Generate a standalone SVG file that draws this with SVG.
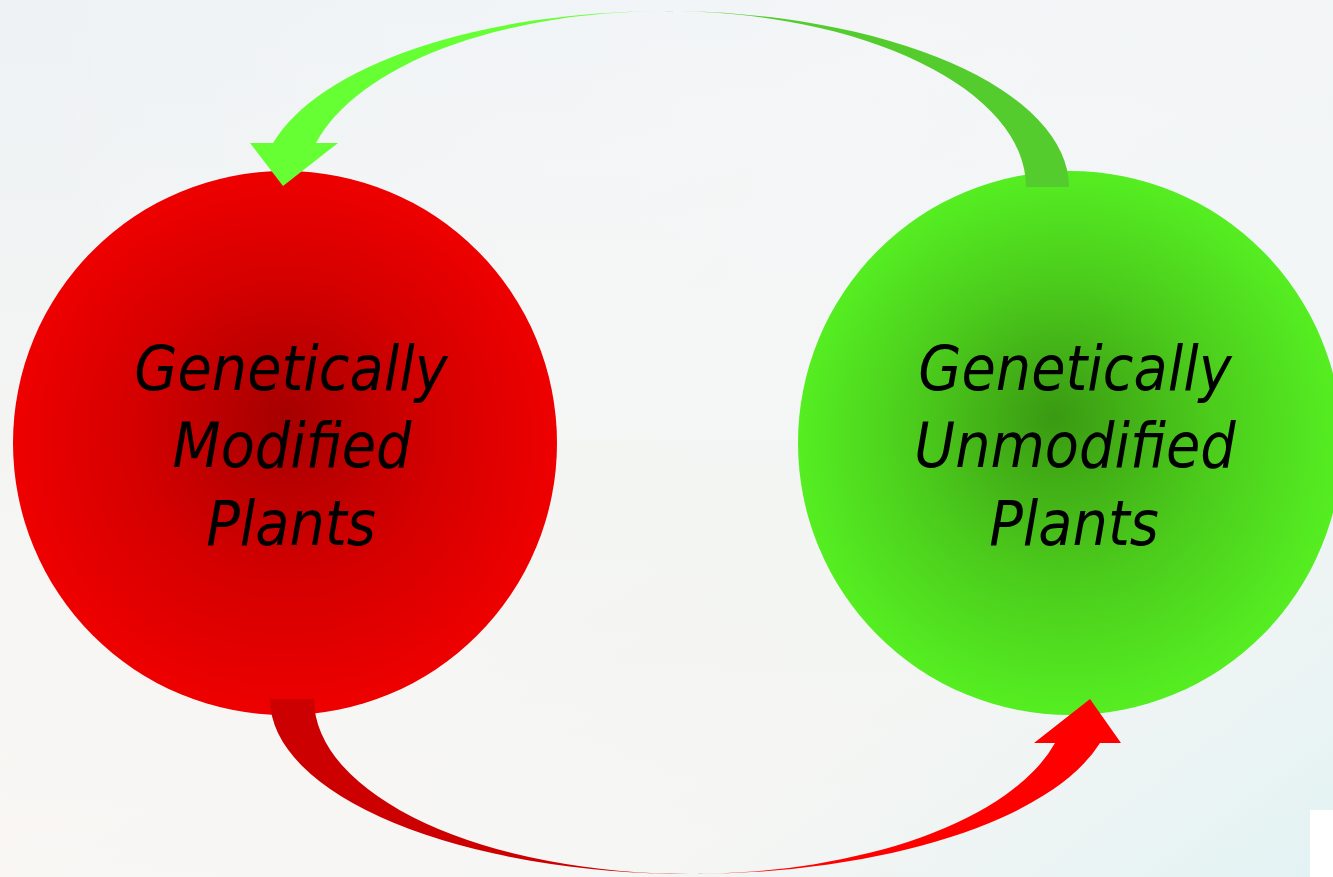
<svg xmlns="http://www.w3.org/2000/svg" width="1333" height="877" viewBox="0 0 1333 877">
  <defs>
    <linearGradient id="bgV" x1="0" y1="0" x2="0" y2="1">
      <stop offset="0" stop-color="#eef2f5"/>
      <stop offset="0.5" stop-color="#f4f5f3"/>
      <stop offset="1" stop-color="#fbf7f4"/>
    </linearGradient>
    <linearGradient id="bgD" x1="0.35" y1="0.35" x2="1" y2="1">
      <stop offset="0" stop-color="#e6f3f4" stop-opacity="0"/>
      <stop offset="0.6" stop-color="#e6f3f4" stop-opacity="0.25"/>
      <stop offset="1" stop-color="#e2f2f3" stop-opacity="1"/>
    </linearGradient>
    <linearGradient id="bgT" x1="0" y1="0" x2="1" y2="0">
      <stop offset="0" stop-color="#ffffff" stop-opacity="0"/>
      <stop offset="1" stop-color="#f8f8f8" stop-opacity="0.6"/>
    </linearGradient>
    <radialGradient id="redG" cx="0.5" cy="0.5" r="0.5" fx="0.5" fy="0.45">
      <stop offset="0" stop-color="#a60000"/>
      <stop offset="0.55" stop-color="#d40000"/>
      <stop offset="1" stop-color="#ee0000"/>
    </radialGradient>
    <radialGradient id="greenG" cx="0.5" cy="0.5" r="0.5" fx="0.47" fy="0.45">
      <stop offset="0" stop-color="#3a9a12"/>
      <stop offset="0.55" stop-color="#4ccc1c"/>
      <stop offset="1" stop-color="#55ee22"/>
    </radialGradient>
  </defs>
  <style>
    .label { font-family: "DejaVu Sans Condensed", "DejaVu Sans", sans-serif; font-stretch: condensed; font-style: italic; font-size: 62px; fill: #000000; text-anchor: middle; }
  </style>
  <rect x="0" y="0" width="1333" height="877" fill="url(#bgV)"/>
  <rect x="0" y="0" width="1333" height="440" fill="url(#bgT)"/>
  <rect x="0" y="0" width="1333" height="877" fill="url(#bgD)"/>
  <rect x="1310" y="810" width="23" height="67" fill="#ffffff"/>

  <g id="node-gm">
    <circle cx="285" cy="443" r="272" fill="url(#redG)"/>
    <text class="label"><tspan x="291" y="390">Genetically</tspan><tspan x="292" y="467">Modified</tspan><tspan x="291" y="545">Plants</tspan></text>
  </g>
  <g id="node-gu">
    <circle cx="1070" cy="443" r="272" fill="url(#greenG)"/>
    <text class="label"><tspan x="1075" y="390">Genetically</tspan><tspan x="1075" y="467">Unmodified</tspan><tspan x="1074" y="545">Plants</tspan></text>
  </g>

  <g id="connectors">
    <path d="M 664 11 A 405 176 0 0 1 1069 187 L 1026 187 A 361 176 0 0 0 664 11 Z" fill="#55cc2e"/>
    <path d="M 664 11 A 405 176 0 0 0 273 143 L 250 143 L 283 186 L 338 143 L 316 143 A 361 176 0 0 1 664 11 Z" fill="#66ff33"/>
    <path d="M 270 699 A 422 175 0 0 0 692 874 A 377 175 0 0 1 314 699 Z" fill="#cc0000"/>
    <path d="M 692 874 A 422 175 0 0 0 1100 743 L 1121 743 L 1090 699 L 1034 743 L 1055 743 A 377 175 0 0 1 692 874 Z" fill="#ff0000"/>
  </g>
</svg>
